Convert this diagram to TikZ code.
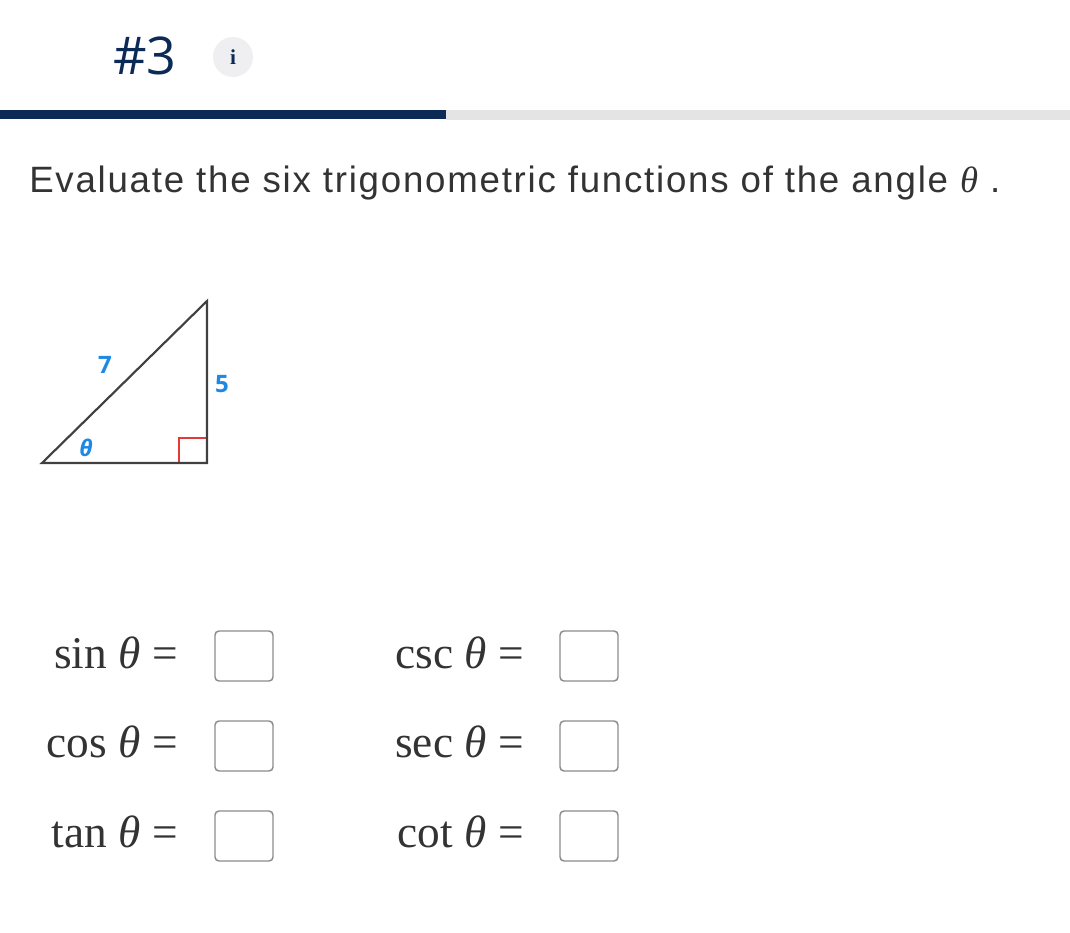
\documentclass[tikz,border=0pt]{standalone}
\usepackage{fontspec}
\setmainfont{Liberation Serif}
\newfontfamily\arialfont[LetterSpace=4.8]{Liberation Sans}
\newfontfamily\headfont{Open Sans}
\usetikzlibrary{positioning}
\definecolor{navy}{HTML}{0B2A55}
\definecolor{txtgray}{HTML}{333333}
\definecolor{figblue}{HTML}{1E88E5}
\definecolor{sqred}{HTML}{E53935}
\definecolor{boxgray}{HTML}{8C8C8C}
\definecolor{barlight}{HTML}{E4E4E4}
\definecolor{infobg}{HTML}{EFEFF1}
\tikzset{%
    ansbox/.style={draw=boxgray,line width=1.1pt,rounded corners=3pt,
        minimum width=43.5pt,minimum height=37.5pt,inner sep=0pt},
    fn/.style={anchor=base east,inner sep=0pt,text=txtgray,
        font=\fontsize{34}{34}\selectfont}
}

\begin{document}
\begin{tikzpicture}[
                x=0.75pt, y=-0.75pt,
                lbl/.style={inner sep=0pt,text=figblue,font=\headfont\bfseries\fontsize{18}{18}\selectfont}
            ]
            \fill[white] (0,0) rectangle (1070,932);
            \useasboundingbox (0,0) rectangle (1070,932);

            % header
            \node[anchor=base west,inner sep=0pt,text=navy,
                font=\headfont\fontsize{39}{39}\selectfont] (num) at (113,74) {\#3};
            \node[circle,fill=infobg,minimum size=30pt,inner sep=0pt,text=navy,
                font=\bfseries\fontsize{16}{16}\selectfont] (info) at (233,57) {i};
            \fill[navy] (0,110) rectangle (446,119);
            \fill[barlight] (446,110) rectangle (1070,120);

            \node[anchor=base west,inner sep=0pt,text=txtgray,
                font=\arialfont\fontsize{27.5}{27.5}\selectfont] (task) at (29,192)
                {Evaluate the six trigonometric functions of the angle {\rmfamily\itshape θ} .};

            % triangle
            \coordinate (a) at (42,463);
            \coordinate (b) at (207,463);
            \coordinate (c) at (207,301);
            \draw[sqred,line width=1pt] (179,463) |- (207,438);
            \draw[black!75,line width=1.6pt] (a) -- (b) -- (c) -- cycle;
            \node[lbl] (hyp) at (105,365) {7};
            \node[lbl] (opp) at (222,384) {5};
            \node[lbl,font=\headfont\bfseries\itshape\fontsize{17}{17}\selectfont] (ang) at (86,448) {θ};

            % answers
            \node[fn] (sin) at (178,668) {sin \textit{θ} =};
            \node[fn] (cos) at (178,757) {cos \textit{θ} =};
            \node[fn] (tan) at (178,847) {tan \textit{θ} =};
            \node[fn] (csc) at (524,668) {csc \textit{θ} =};
            \node[fn] (sec) at (524,757) {sec \textit{θ} =};
            \node[fn] (cot) at (524,847) {cot \textit{θ} =};

            \node[ansbox] (sinbox) at (244,656) {};
            \node[ansbox] (cosbox) at (244,746) {};
            \node[ansbox] (tanbox) at (244,836) {};
            \node[ansbox] (cscbox) at (589,656) {};
            \node[ansbox] (secbox) at (589,746) {};
            \node[ansbox] (cotbox) at (589,836) {};
        \end{tikzpicture}
\end{document}
